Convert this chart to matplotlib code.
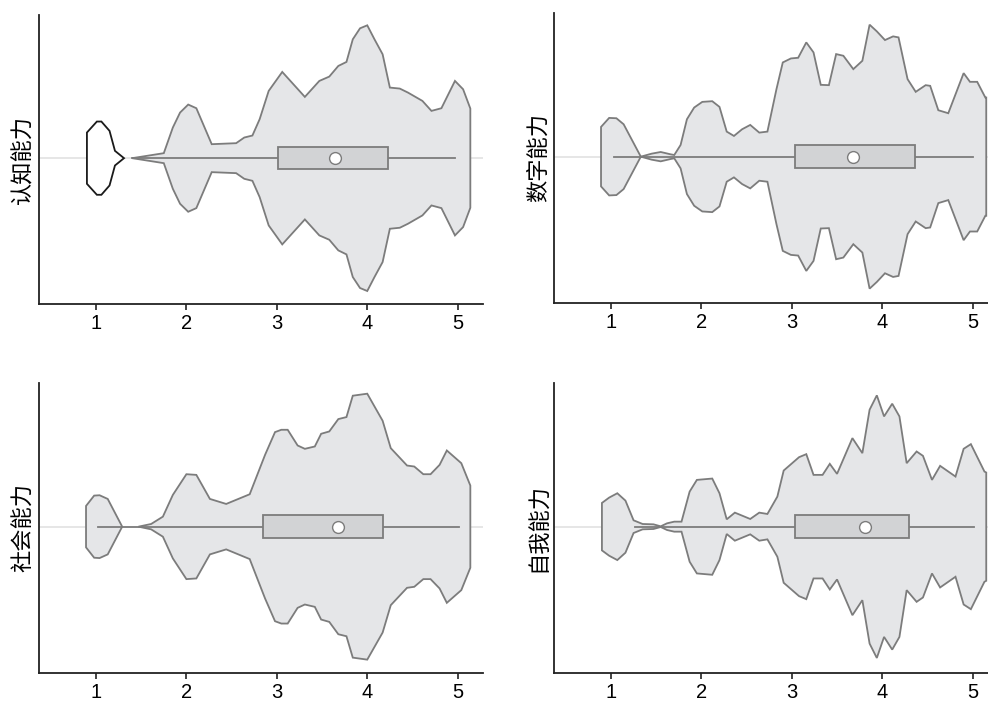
import matplotlib.pyplot as plt
import numpy as np

plt.rcParams['font.family'] = ['Liberation Sans', 'Noto Sans CJK SC', 'DejaVu Sans']

labels = ['认知能力', '数字能力', '社会能力', '自我能力']

# violin outlines: x position and half-width (density) along the axis
v1_x = [1.40, 1.75, 1.85, 1.93, 2.02, 2.11, 2.28, 2.55, 2.64, 2.73, 2.81, 2.91, 3.06, 3.31,
        3.47, 3.58, 3.68, 3.77, 3.84, 3.92, 4.00, 4.08, 4.17, 4.25, 4.36, 4.45, 4.61, 4.71,
        4.82, 4.97, 5.06, 5.14]
v1_w = [0.00, 0.15, 0.92, 1.37, 1.61, 1.50, 0.42, 0.45, 0.62, 0.68, 1.17, 2.02, 2.59, 1.84,
        2.32, 2.45, 2.77, 2.89, 3.57, 3.90, 3.99, 3.57, 3.12, 2.12, 2.09, 1.97, 1.72, 1.42,
        1.50, 2.32, 2.07, 1.49]
v1_small_x = [0.90, 1.01, 1.06, 1.15, 1.21, 1.31]
v1_small_w = [0.77, 1.10, 1.10, 0.82, 0.22, 0.00]

v2_x = [0.89, 0.98, 1.06, 1.14, 1.33, 1.45, 1.55, 1.66, 1.70, 1.77, 1.84, 1.92, 2.01, 2.12,
        2.20, 2.28, 2.36, 2.45, 2.54, 2.64, 2.73, 2.83, 2.90, 2.99, 3.07, 3.16, 3.24, 3.32,
        3.41, 3.49, 3.57, 3.68, 3.78, 3.86, 3.94, 4.03, 4.12, 4.18, 4.28, 4.37, 4.48, 4.53,
        4.62, 4.73, 4.90, 4.97, 5.05, 5.14, 5.15]
v2_w = [0.89, 1.16, 1.15, 0.97, 0.00, 0.09, 0.14, 0.07, 0.05, 0.35, 1.12, 1.47, 1.64, 1.66,
        1.49, 0.75, 0.62, 0.82, 0.95, 0.72, 0.75, 2.02, 2.82, 2.94, 2.96, 3.42, 3.12, 2.15,
        2.14, 3.07, 3.02, 2.62, 2.87, 3.95, 3.75, 3.49, 3.60, 3.57, 2.32, 1.94, 2.14, 2.12,
        1.39, 1.30, 2.50, 2.24, 2.24, 1.77, 1.77]

v3_x = [1.47, 1.61, 1.74, 1.85, 2.00, 2.11, 2.26, 2.44, 2.70, 2.87, 2.98, 3.05, 3.12, 3.23,
        3.31, 3.42, 3.49, 3.58, 3.68, 3.77, 3.84, 4.00, 4.17, 4.26, 4.44, 4.52, 4.62, 4.70,
        4.80, 4.88, 5.04, 5.14]
v3_w = [0.00, 0.08, 0.30, 0.95, 1.57, 1.55, 0.83, 0.68, 0.97, 2.15, 2.83, 2.90, 2.90, 2.43,
        2.33, 2.40, 2.78, 2.85, 3.22, 3.28, 3.92, 3.98, 3.17, 2.35, 1.83, 1.80, 1.57, 1.57,
        1.85, 2.28, 1.90, 1.23]
v3_small_x = [0.89, 0.98, 1.04, 1.13, 1.29]
v3_small_w = [0.62, 0.93, 0.94, 0.83, 0.00]

v4_x = [0.90, 0.98, 1.07, 1.16, 1.25, 1.35, 1.47, 1.55, 1.62, 1.70, 1.78, 1.87, 1.95, 2.12,
        2.20, 2.28, 2.37, 2.54, 2.64, 2.73, 2.84, 2.91, 3.08, 3.16, 3.24, 3.34, 3.42, 3.50,
        3.67, 3.78, 3.86, 3.94, 4.02, 4.11, 4.19, 4.27, 4.38, 4.45, 4.55, 4.64, 4.81, 4.90,
        4.98, 5.13, 5.15]
v4_w = [0.71, 0.87, 1.00, 0.78, 0.19, 0.08, 0.07, 0.01, 0.10, 0.15, 0.15, 1.05, 1.40, 1.44,
        1.00, 0.22, 0.42, 0.23, 0.42, 0.38, 0.90, 1.68, 2.08, 2.17, 1.55, 1.55, 1.88, 1.58,
        2.65, 2.20, 3.50, 3.93, 3.30, 3.68, 3.30, 1.90, 2.25, 2.12, 1.40, 1.82, 1.50, 2.33,
        2.47, 1.65, 1.62]

violins = [(v1_x, v1_w), (v2_x, v2_w), (v3_x, v3_w), (v4_x, v4_w)]
small_violins = {0: (v1_small_x, v1_small_w), 2: (v3_small_x, v3_small_w)}

# box stats: whisker low, q1, q3, whisker high, mean
whisk_lo = [1.40, 1.03, 1.02, 1.27]
q1 = [3.01, 3.03, 2.85, 3.03]
q3 = [4.23, 4.36, 4.17, 4.30]
whisk_hi = [4.97, 5.00, 5.01, 5.02]
means = [3.64, 3.68, 3.68, 3.81]

fill_c = '#e5e6e8'
edge_c = '#7c7c7c'
box_c = '#d2d3d5'

fig = plt.figure(figsize=(9.88, 7.01), dpi=100)
W, H = 988, 701
pos = [(39, 15, 444, 289), (554, 13, 444, 290), (39, 383, 444, 290), (554, 383, 444, 290)]

for i in range(4):
    l, t, w, h = pos[i]
    ax = fig.add_axes([l / W, 1 - (t + h) / H, w / W, h / H])
    ax.axhline(0, color='#e2e2e2', lw=1.2, zorder=0)

    xs, ws = np.array(violins[i][0]), np.array(violins[i][1])
    ax.fill(np.r_[xs, xs[::-1]], np.r_[ws, -ws[::-1]], facecolor=fill_c,
            edgecolor=edge_c, lw=1.3, zorder=1)
    if i in small_violins:
        sx, sw = np.array(small_violins[i][0]), np.array(small_violins[i][1])
        if i == 0:
            ax.fill(np.r_[sx, sx[::-1]], np.r_[sw, -sw[::-1]], facecolor='white',
                    edgecolor='#1a1a1a', lw=1.3, zorder=1)
        else:
            ax.fill(np.r_[sx, sx[::-1]], np.r_[sw, -sw[::-1]], facecolor=fill_c,
                    edgecolor=edge_c, lw=1.3, zorder=1)

    ax.plot([whisk_lo[i], whisk_hi[i]], [0, 0], color=edge_c, lw=1.3, zorder=2)
    ax.add_patch(plt.Rectangle((q1[i], -0.335), q3[i] - q1[i], 0.67, facecolor=box_c,
                               edgecolor=edge_c, lw=1.3, zorder=3))
    ax.plot(means[i], 0, 'o', ms=8.5, mfc='white', mec=edge_c, mew=1.0, zorder=4)

    ax.set_xlim(0.37, 5.28)
    ax.set_ylim(-4.38, 4.30)
    ax.set_xticks([1, 2, 3, 4, 5])
    ax.set_xticklabels(['1', '2', '3', '4', '5'], fontsize=14.5)
    ax.set_yticks([])
    ax.set_ylabel(labels[i], fontsize=16, family=['Noto Sans CJK SC', 'DejaVu Sans'], labelpad=3)
    ax.tick_params(axis='x', length=4, width=1.2, color='#222222', pad=3)
    for s in ['top', 'right']:
        ax.spines[s].set_visible(False)
    for s in ['left', 'bottom']:
        ax.spines[s].set_color('#222222')
        ax.spines[s].set_linewidth(1.3)

fig.savefig('out.png', dpi=100)
